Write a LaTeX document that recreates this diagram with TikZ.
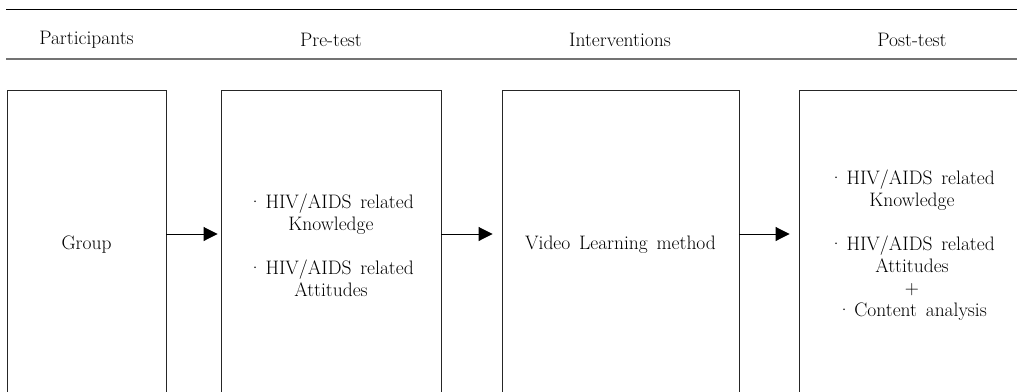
\documentclass[tikz,border=0pt]{standalone}
\usetikzlibrary{arrows.meta}
\newcommand\diagfont{\fontsize{19.5}{22}\selectfont\spaceskip=0.45em plus 0.1em\relax}
\begin{document}
\begin{tikzpicture}[x=1pt,y=-1pt,
  txt/.style={font=\diagfont, align=center, inner sep=0pt},
  stagebox/.style={draw=black!85, line width=0.9pt, minimum height=310pt, inner sep=0pt, txt},
  arr/.style={line width=0.9pt, -{Triangle[length=14pt,width=14pt]}},
  head/.style={txt}]
\clip (0,0) rectangle (1017,391);
\fill[white] (0,0) rectangle (1017,391);
% header rules
\draw[line width=0.9pt] (6,9) -- (1017,9);
\draw[black!55, line width=1.3pt] (6,59) -- (1017,59);
% headers
\node[head] (h1) at (86.5,40) {Participants};
\node[head] (h2) at (331,40) {Pre-test};
\node[head] (h3) at (620,40) {Interventions};
\node[head] (h4) at (912,40) {Post-test};
% boxes
\node[stagebox, minimum width=159pt] (b1) at (86.5,245) {Group};
\node[stagebox, minimum width=220pt] (b2) at (331,245) {\textperiodcentered\,HIV/AIDS related\\Knowledge\\[22pt]\textperiodcentered\,HIV/AIDS related\\Attitudes};
\node[stagebox, minimum width=237pt] (b3) at (620.5,245) {Video Learning method};
\node[stagebox, minimum width=226pt] (b4) at (912,245) {\textperiodcentered\,HIV/AIDS related\\Knowledge\\[22pt]\textperiodcentered\,HIV/AIDS related\\Attitudes\\+\\\textperiodcentered\,Content analysis};
% arrows
\draw[arr] ([yshift=11pt]b1.east) -- ([yshift=11pt,xshift=-3pt]b2.west);
\draw[arr] ([yshift=11pt]b2.east) -- ([yshift=11pt,xshift=-9pt]b3.west);
\draw[arr] ([yshift=11pt]b3.east) -- ([yshift=11pt,xshift=-9pt]b4.west);
\end{tikzpicture}
\end{document}
